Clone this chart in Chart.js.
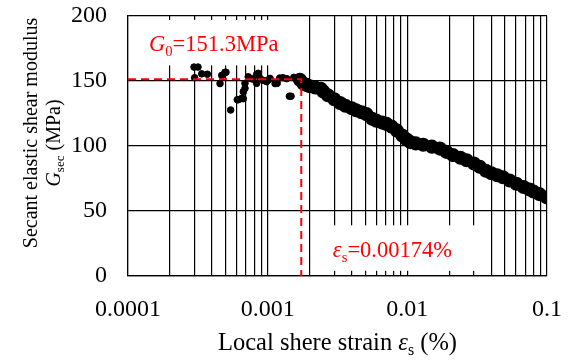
<!DOCTYPE html>
<html>
<head>
<meta charset="utf-8">
<script src="https://cdn.jsdelivr.net/npm/chart.js@4.4.1/dist/chart.umd.min.js"></script>
<style>
  body { margin: 0; background: #fff; }
  #wrap { width: 573px; height: 362px; position: relative; }
</style>
</head>
<body>
<div id="wrap"><canvas id="chart"></canvas></div>
<script>
// --- data ---
// scattered early points (small strain)
const scatterX = [0.000297, 0.000300, 0.000317, 0.000337, 0.00037, 0.000456, 0.000469, 0.000495, 0.000503,
  0.000543, 0.000606, 0.000616, 0.000651, 0.000669, 0.000669, 0.000688, 0.000688, 0.000726, 0.000747,
  0.000776, 0.000834, 0.000834, 0.000856, 0.000881, 0.00093, 0.000983, 0.00101, 0.00104, 0.00113,
  0.00117, 0.00122, 0.00129, 0.00137, 0.00143, 0.00147, 0.00154, 0.00161,
  0.0019, 0.00212, 0.0025, 0.0027, 0.0031, 0.0035];
const scatterY = [160.7, 152.5, 160.7, 155.5, 155.2, 148.0, 154.3, 156.7, 156.7,
  127.7, 135.6, 135.6, 136.6, 141.8, 136.4, 144.4, 148.2, 153.3, 152.0,
  151.5, 155.0, 148.2, 155.9, 152.0, 150.5, 149.5, 150.8, 152.0, 148.0,
  148.2, 152.3, 152.5, 151.8, 138.3, 138.3, 152.8, 151.5,
  146.5, 143.0, 141.8, 138.0, 132.8, 134.0];

// dense main curve
const curveX = [0.0017, 0.0018, 0.0019, 0.0020, 0.0022, 0.0024, 0.0025, 0.0027, 0.0030, 0.0033,
  0.0036, 0.0040, 0.0043, 0.0047, 0.0051, 0.0056, 0.0060, 0.0066, 0.0071, 0.0077,
  0.0084, 0.0092, 0.0099, 0.0105, 0.0115, 0.0130, 0.0150, 0.0171, 0.0190, 0.0212,
  0.0240, 0.0266, 0.0300, 0.0330, 0.0365, 0.0400, 0.0440, 0.0484, 0.0540, 0.0604,
  0.0680, 0.0750, 0.0800, 0.0880, 0.0994];
const curveY = [151.0, 148.0, 147.0, 146.0, 145.0, 144.0, 142.0, 139.0, 136.0, 133.0,
  131.0, 129.0, 127.5, 126.0, 124.5, 121.0, 119.5, 118.0, 117.0, 115.0,
  112.0, 108.0, 105.0, 103.0, 102.0, 101.0, 99.5, 98.0, 95.5, 93.0,
  91.0, 89.0, 86.5, 84.0, 81.0, 79.0, 77.5, 76.0, 73.5, 71.0,
  68.5, 66.5, 65.0, 63.0, 60.5];

// reference values
const G0 = 151.3;
const epsRef = 0.00174;

// axes
const xGrid = [0.0001, 0.0002, 0.0003, 0.0004, 0.0005, 0.0006, 0.0007, 0.0008, 0.0009,
  0.001, 0.002, 0.003, 0.004, 0.005, 0.006, 0.007, 0.008, 0.009,
  0.01, 0.02, 0.03, 0.04, 0.05, 0.06, 0.07, 0.08, 0.09, 0.1];
const xMajor = [0.0001, 0.001, 0.01, 0.1];
const xLabels = ["0.0001", "0.001", "0.01", "0.1"];
const yTicks = [0, 50, 100, 150, 200];

const FONT = '"Liberation Serif", "Times New Roman", serif';
const RED = "#ff0000";

const toPts = (xs, ys) => xs.map((x, i) => ({ x: x, y: ys[i] }));

// text made of pieces (italic / subscript)
function richWidth(ctx, runs, size) {
  let w = 0;
  runs.forEach(r => {
    ctx.font = (r.it ? "italic " : "") + (r.sub ? size * 0.65 : size) + "px " + FONT;
    w += ctx.measureText(r.t).width;
  });
  return w;
}
function drawRich(ctx, runs, x, y, size) {
  let cx = x;
  runs.forEach(r => {
    ctx.font = (r.it ? "italic " : "") + (r.sub ? size * 0.65 : size) + "px " + FONT;
    ctx.fillText(r.t, cx, y + (r.sub ? size * 0.22 : 0));
    cx += ctx.measureText(r.t).width;
  });
}

const labelsPlugin = {
  id: "labels",
  beforeDatasetsDraw(chart) {
    const { ctx, scales: { x, y } } = chart;
    ctx.save();
    ctx.fillStyle = "#fff";
    // white boxes behind the two red notes
    let l = x.getPixelForValue(0.0001) + 1, r = x.getPixelForValue(0.0019);
    ctx.fillRect(l, y.getPixelForValue(197), r - l, y.getPixelForValue(162) - y.getPixelForValue(197));
    l = x.getPixelForValue(0.00205); r = x.getPixelForValue(0.0385);
    ctx.fillRect(l, y.getPixelForValue(39), r - l, y.getPixelForValue(4) - y.getPixelForValue(39));
    ctx.restore();
  },
  afterDraw(chart) {
    const { ctx, scales: { x, y } } = chart;
    ctx.save();
    ctx.textBaseline = "alphabetic";
    ctx.textAlign = "left";
    ctx.fillStyle = RED;
    drawRich(ctx, [{ t: "G", it: true }, { t: "0", sub: true }, { t: "=151.3MPa" }],
      x.getPixelForValue(0.0001414), y.getPixelForValue(173), 22.5);
    drawRich(ctx, [{ t: "ε", it: true }, { t: "s", sub: true }, { t: "=0.00174%" }],
      x.getPixelForValue(0.00293), y.getPixelForValue(14.6), 22.5);

    // axis titles
    ctx.fillStyle = "#000";
    const xt = [{ t: "Local shere strain " }, { t: "ε", it: true }, { t: "s", sub: true }, { t: " (%)" }];
    const cx = (chart.chartArea.left + chart.chartArea.right) / 2;
    drawRich(ctx, xt, cx - richWidth(ctx, xt, 24.5) / 2, 350, 24.5);

    const y1 = [{ t: "Secant elastic shear modulus" }];
    const y2 = [{ t: "G", it: true }, { t: "sec", sub: true }, { t: " (MPa)" }];
    ctx.translate(37, 133);
    ctx.rotate(-Math.PI / 2);
    drawRich(ctx, y1, -richWidth(ctx, y1, 20) / 2, 0, 20);
    ctx.rotate(Math.PI / 2);
    ctx.translate(23, 10);
    ctx.rotate(-Math.PI / 2);
    drawRich(ctx, y2, -richWidth(ctx, y2, 20) / 2, 0, 20);
    ctx.restore();
  }
};

new Chart(document.getElementById("chart"), {
  type: "scatter",
  data: {
    datasets: [
      {
        // G0 / reference strain marker
        type: "line",
        data: [{ x: 0.0001, y: G0 }, { x: epsRef, y: G0 }, { x: epsRef, y: 0 }],
        borderColor: RED,
        borderWidth: 2,
        borderDash: [8, 5],
        pointRadius: 0,
        fill: false,
        order: 0
      },
      {
        data: toPts(curveX, curveY),
        showLine: true,
        borderColor: "#000",
        borderWidth: 7.5,
        borderJoinStyle: "round",
        borderCapStyle: "round",
        backgroundColor: "#000",
        pointRadius: 3.3,
        order: 1
      },
      {
        data: toPts(scatterX, scatterY),
        backgroundColor: "#000",
        borderColor: "#000",
        pointRadius: 3.3,
        order: 1
      }
    ]
  },
  options: {
    responsive: true,
    maintainAspectRatio: false,
    animation: false,
    layout: { padding: { left: 0, right: 26, top: 16, bottom: 0 } },
    plugins: { legend: { display: false }, tooltip: { enabled: false } },
    scales: {
      x: {
        type: "logarithmic",
        min: 0.0001,
        max: 0.1,
        afterBuildTicks: s => { s.ticks = xGrid.map(v => ({ value: v })); },
        afterFit: s => { s.height = 86; s.paddingLeft = 0; s.paddingRight = 0; },
        ticks: {
          autoSkip: false,
          maxRotation: 0,
          padding: 19,
          color: "#000",
          font: { family: FONT, size: 24 },
          callback: v => {
            const i = xMajor.findIndex(m => Math.abs(Math.log10(v) - Math.log10(m)) < 1e-6);
            return i >= 0 ? xLabels[i] : "";
          }
        },
        grid: { color: "#000", lineWidth: 1.2, drawTicks: false },
        border: { color: "#000", width: 1.2 }
      },
      y: {
        min: 0,
        max: 200,
        afterBuildTicks: s => { s.ticks = yTicks.map(v => ({ value: v })); },
        afterFit: s => { s.width = 128; s.paddingTop = 0; s.paddingBottom = 0; },
        ticks: {
          padding: 21,
          color: "#000",
          font: { family: FONT, size: 24 }
        },
        grid: { color: "#000", lineWidth: 1.2, drawTicks: false },
        border: { color: "#000", width: 1.2 }
      }
    }
  },
  plugins: [labelsPlugin]
});
</script>
</body>
</html>
